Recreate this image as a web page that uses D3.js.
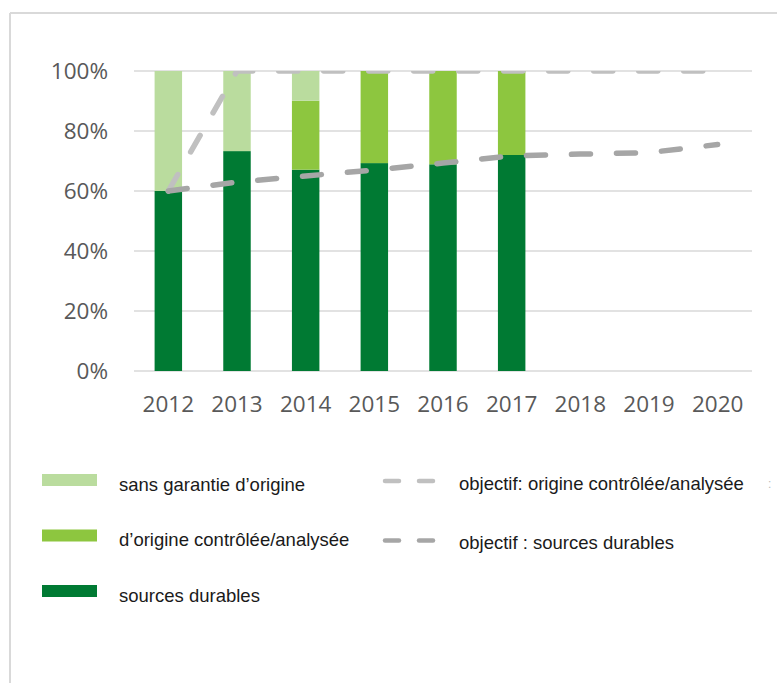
<!DOCTYPE html>
<html>
<head>
<meta charset="utf-8">
<script src="https://cdn.jsdelivr.net/npm/d3@7"></script>
<style>
  html, body { margin: 0; padding: 0; background: #fff; }
  svg { display: block; }
</style>
</head>
<body>
<div id="chart"></div>
<script>
(function () {

    // data
    var years      = ["2012", "2013", "2014", "2015", "2016", "2017", "2018", "2019", "2020"];
    var durables   = [60, 73.3, 67.1, 69.3, 68.9, 72, null, null, null];
    var controlee  = [0, 0, 23, 30.7, 31.1, 28, null, null, null];
    var sansGarant = [40, 26.7, 9.9, 0, 0, 0, null, null, null];
    var objControlee = [60, 100, 100, 100, 100, 100, 100, 100, 100];
    var objDurables  = [60, 63, 65, 67, 69.3, 71.7, 72.3, 72.8, 75.5];
    var yTicks     = [0, 20, 40, 60, 80, 100];

    var W = 777, H = 683;
    var COL_DARK  = "#007a33";
    var COL_MID   = "#8dc63f";
    var COL_LIGHT = "#badc9e";
    var COL_OBJ1  = "#c0c0c0";
    var COL_OBJ2  = "#a6a6a6";

    var svg = d3.select("#chart").append("svg")
        .attr("width", W).attr("height", H);

    svg.append("rect").attr("width", W).attr("height", H).attr("fill", "#fff");

    // outer frame (top and left edges only visible)
    svg.append("line")
        .attr("x1", 10).attr("x2", W).attr("y1", 13).attr("y2", 13)
        .attr("stroke", "#d9d9d9").attr("stroke-width", 2);
    svg.append("line")
        .attr("x1", 10).attr("x2", 10).attr("y1", 13).attr("y2", H)
        .attr("stroke", "#d9d9d9").attr("stroke-width", 2);

    // scales
    var x = d3.scaleBand()
        .domain(years)
        .range([134, 752])
        .paddingInner(0.6)
        .paddingOuter(0.3);

    var y = d3.scaleLinear().domain([0, 100]).range([371, 71]);

    // grid
    svg.append("g").attr("class", "grid")
        .selectAll("line").data(yTicks).enter().append("line")
        .attr("x1", 134).attr("x2", 752)
        .attr("y1", function (d) { return y(d); })
        .attr("y2", function (d) { return y(d); })
        .attr("stroke", "#d9d9d9")
        .attr("stroke-width", 1.5);

    // y axis labels
    var yAxis = d3.axisLeft(y).tickValues(yTicks).tickSize(0).tickPadding(0)
        .tickFormat(function (v) { return v + "%"; });
    var gy = svg.append("g").attr("transform", "translate(108,0)").call(yAxis);
    gy.select(".domain").remove();

    // x axis labels
    var xAxis = d3.axisBottom(x).tickSize(0).tickPadding(0);
    var gx = svg.append("g").attr("transform", "translate(0,396)").call(xAxis);
    gx.select(".domain").remove();

    svg.selectAll(".tick text")
        .style("font-family", "'Open Sans', sans-serif")
        .style("font-size", "22.5px")
        .style("fill", "#595959");

    // stacked bars
    var rows = years.map(function (yr, i) {
        return { year: yr, durables: durables[i], controlee: controlee[i], sans: sansGarant[i] };
    }).filter(function (d) { return d.durables !== null; });

    var stack = d3.stack().keys(["durables", "controlee", "sans"]);
    var series = stack(rows);
    var colors = { durables: COL_DARK, controlee: COL_MID, sans: COL_LIGHT };

    svg.append("g").attr("class", "bars")
        .selectAll("g").data(series).enter().append("g")
        .attr("fill", function (s) { return colors[s.key]; })
        .selectAll("rect").data(function (s) { return s; }).enter().append("rect")
        .attr("x", function (d) { return x(d.data.year); })
        .attr("width", x.bandwidth())
        .attr("y", function (d) { return y(d[1]); })
        .attr("height", function (d) { return y(d[0]) - y(d[1]); });

    // objective lines, clipped at the plot top
    svg.append("defs").append("clipPath").attr("id", "clip-plot")
        .append("rect")
        .attr("x", 0).attr("y", y(100)).attr("width", W).attr("height", y(0) - y(100) + 10);

    var cx = function (i) { return x(years[i]) + x.bandwidth() / 2; };
    var line = d3.line()
        .x(function (d, i) { return cx(i); })
        .y(function (d) { return y(d); });

    svg.append("path")
        .datum(objControlee)
        .attr("clip-path", "url(#clip-plot)")
        .attr("fill", "none")
        .attr("stroke", COL_OBJ1)
        .attr("stroke-width", 5.5)
        .attr("stroke-linecap", "round")
        .attr("stroke-dasharray", "19 26")
        .attr("d", line);

    svg.append("path")
        .datum(objDurables)
        .attr("clip-path", "url(#clip-plot)")
        .attr("fill", "none")
        .attr("stroke", COL_OBJ2)
        .attr("stroke-width", 5.5)
        .attr("stroke-linecap", "round")
        .attr("stroke-dasharray", "19 26")
        .attr("d", line);

    // legend
    var legend = svg.append("g").attr("class", "legend");
    var boxItems = [
        { color: COL_LIGHT, label: "sans garantie d\u2019origine", y: 480 },
        { color: COL_MID,   label: "d\u2019origine contr\u00f4l\u00e9e/analys\u00e9e", y: 535.5 },
        { color: COL_DARK,  label: "sources durables", y: 591 }
    ];
    boxItems.forEach(function (d) {
        legend.append("rect")
            .attr("x", 42).attr("y", d.y - 6)
            .attr("width", 55).attr("height", 12)
            .attr("fill", d.color);
        legend.append("text")
            .attr("x", 119).attr("y", d.y + 10.5)
            .text(d.label);
    });

    var lineItems = [
        { color: COL_OBJ1, label: "objectif: origine contr\u00f4l\u00e9e/analys\u00e9e", y: 481 },
        { color: COL_OBJ2, label: "objectif : sources durables", y: 540.5 }
    ];
    lineItems.forEach(function (d) {
        [385, 419].forEach(function (x0) {
            legend.append("line")
                .attr("x1", x0).attr("x2", x0 + 14)
                .attr("y1", d.y).attr("y2", d.y)
                .attr("stroke", d.color)
                .attr("stroke-width", 4.5)
                .attr("stroke-linecap", "round");
        });
        legend.append("text")
            .attr("x", 459).attr("y", d.y + 8.5)
            .text(d.label);
    });

    legend.selectAll("text")
        .style("font-family", "'Liberation Sans', Arial, sans-serif")
        .style("font-size", "18.5px")
        .style("fill", "#1a1a1a");

    // clipped remnant of a further legend entry at the right edge
    svg.append("text")
        .attr("x", 768).attr("y", 488)
        .style("font-family", "'Liberation Sans', Arial, sans-serif")
        .style("font-size", "12px")
        .style("fill", "#bbb")
        .text(":");

}());
</script>
</body>
</html>
